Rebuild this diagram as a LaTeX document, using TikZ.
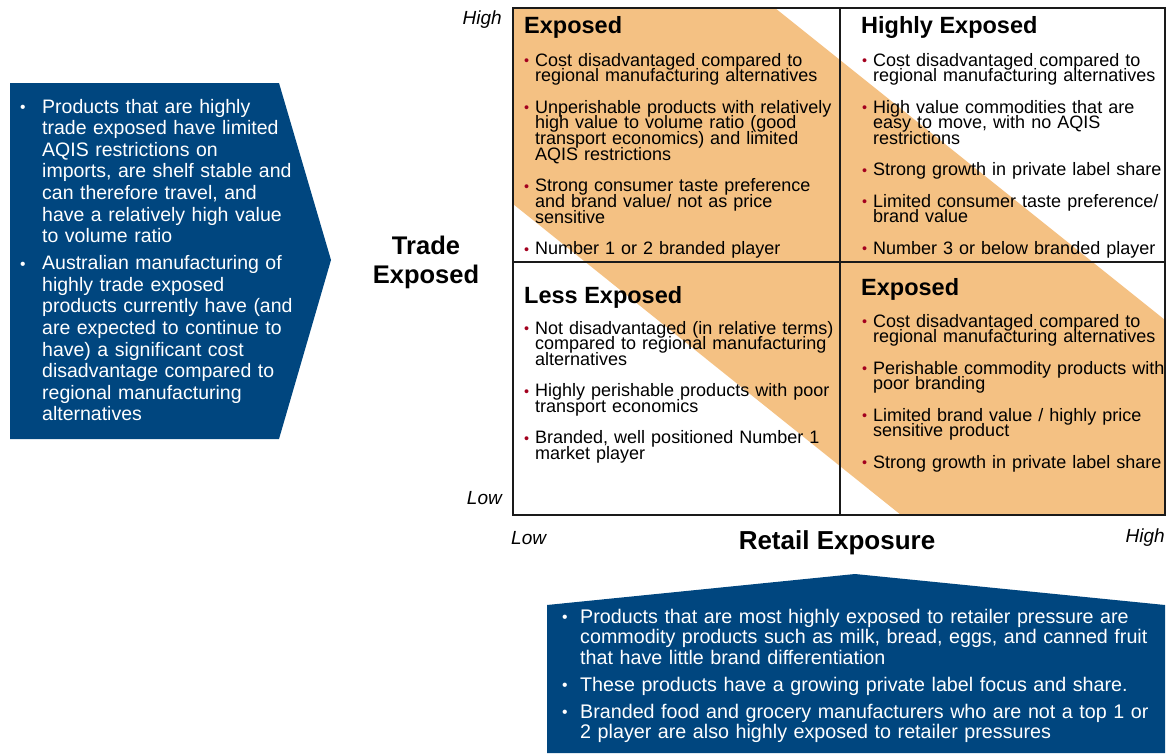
\documentclass[tikz,border=0pt]{standalone}
\usepackage{fontspec}
\setmainfont{Liberation Sans}
\usepackage{xcolor}
\usepackage{tikz}
\usetikzlibrary{positioning, calc}
\definecolor{darkblue}{HTML}{00467F}
\definecolor{lightorange}{HTML}{F4C183}
\definecolor{bulletred}{HTML}{A3001E}
\definecolor{gridline}{HTML}{1A1A1A}

\newlength{\itemgap}
\newlength{\hangwd}
\newcommand{\qitem}[2][bulletred]{%
  \hangindent=\hangwd\hangafter=1\noindent
  \makebox[\hangwd][l]{\raisebox{0.02em}{\textcolor{#1}{\scalebox{0.8}{•}}}}#2\par\vskip\itemgap}

\begin{document}
\begin{tikzpicture}[x=1pt, y=-1pt,
    quadtitle/.style={anchor=base west, inner sep=0pt, font=\fontsize{23.5}{28}\selectfont\bfseries},
    quaditems/.style={anchor=base west, inner sep=0pt, text width=#1, align=left,
      font=\fontsize{18}{15.8}\selectfont,
      execute at begin node={\setlength{\lineskiplimit}{-30pt}\setlength{\itemgap}{15.4pt}\setlength{\hangwd}{11pt}}},
    bluenotes/.style={anchor=base west, inner sep=0pt, text width=#1, align=left, text=white},
    axislabel/.style={inner sep=0pt, font=\fontsize{19}{22}\selectfont\itshape},
    axistitle/.style={inner sep=0pt, align=center, font=\fontsize{25.5}{29}\selectfont\bfseries}
  ]
    \useasboundingbox (0,0) rectangle (1170,753);

    \coordinate (mnw) at (513,8);
    \coordinate (mse) at (1165,515);
    \coordinate (mmid) at (840,262);

    \fill[lightorange] (mnw) -- (775,8) -- (1165,320) -- (1165,515) -- (901,515) -- (513,204) -- cycle;
    \draw[gridline, line width=1.2pt] (mnw) rectangle (mse);
    \draw[gridline, line width=1.2pt] (mnw -| mmid) -- (mse -| mmid);
    \draw[gridline, line width=1.2pt] (mnw |- mmid) -- (mse |- mmid);

    \node[quadtitle] (tltitle) at (524,33) {Exposed};
    \node[quaditems=330] (tlitems) at (524,66) {%
      \qitem{Cost disadvantaged compared to\newline regional manufacturing alternatives}
      \qitem{Unperishable products with relatively\newline high value to volume ratio (good\newline transport economics) and limited\newline AQIS restrictions}
      \qitem{Strong consumer taste preference\newline and brand value/ not as price\newline sensitive}
      \qitem{Number 1 or 2 branded player}};

    \node[quadtitle] (trtitle) at (861,33) {Highly Exposed};
    \node[quaditems=330] (tritems) at (862,66) {%
      \qitem{Cost disadvantaged compared to\newline regional manufacturing alternatives}
      \qitem{High value commodities that are\newline easy to move, with no AQIS\newline restrictions}
      \qitem{Strong growth in private label share}
      \qitem{Limited consumer taste preference/\newline brand value}
      \qitem{Number 3 or below branded player}};

    \node[quadtitle] (bltitle) at (524,303) {Less Exposed};
    \node[quaditems=330] (blitems) at (524,334) {%
      \qitem{Not disadvantaged (in relative terms)\newline compared to regional manufacturing\newline alternatives}
      \qitem{Highly perishable products with poor\newline transport economics}
      \qitem{Branded, well positioned Number 1\newline market player}};

    \node[quadtitle] (brtitle) at (861,295) {Exposed};
    \node[quaditems=330] (britems) at (862,327) {%
      \qitem{Cost disadvantaged compared to\newline regional manufacturing alternatives}
      \qitem{Perishable commodity products with\newline poor branding}
      \qitem{Limited brand value / highly price\newline sensitive product}
      \qitem{Strong growth in private label share}};

    \node[axislabel, anchor=east] (yhigh) at (502,20) {High};
    \node[axislabel, anchor=east] (ylow) at (502,498) {Low};
    \node[axislabel, anchor=west] (xlow) at (511,538) {Low};
    \node[axislabel, anchor=east] (xhigh) at (1165,538) {High};
    \node[axistitle] (ytitle) at (426,262) {Trade\\Exposed};
    \node[axistitle, font=\fontsize{26}{29}\selectfont\bfseries] (xtitle) at (837,543) {Retail Exposure};

    \fill[darkblue] (10,83) -- (279,83) -- (331,260) -- (279,439) -- (10,439) -- cycle;
    \node[bluenotes=300, font=\fontsize{19.5}{21.6}\selectfont,
          execute at begin node={\setlength{\lineskiplimit}{-30pt}\setlength{\itemgap}{5.4pt}\setlength{\hangwd}{22pt}}] (tradenotes) at (20,113) {%
      \qitem[white]{Products that are highly\newline trade exposed have limited\newline AQIS restrictions on\newline imports, are shelf stable and\newline can therefore travel, and\newline have a relatively high value\newline to volume ratio}
      \qitem[white]{Australian manufacturing of\newline highly trade exposed\newline products currently have (and\newline are expected to continue to\newline have) a significant cost\newline disadvantage compared to\newline regional manufacturing\newline alternatives}};

    \fill[darkblue] (547,605) -- (855,574) -- (1165,605) -- (1165,753) -- (547,753) -- cycle;
    \node[bluenotes=605, font=\fontsize{19.7}{20.5}\selectfont,
          execute at begin node={\setlength{\lineskiplimit}{-30pt}\setlength{\itemgap}{6.5pt}\setlength{\hangwd}{18pt}}] (retailnotes) at (562,623) {%
      \qitem[white]{Products that are most highly exposed to retailer pressure are\newline commodity products such as milk, bread, eggs, and canned fruit\newline that have little brand differentiation}
      \qitem[white]{These products have a growing private label focus and share.}
      \qitem[white]{Branded food and grocery manufacturers who are not a top 1 or\newline 2 player are also highly exposed to retailer pressures}};
  \end{tikzpicture}
\end{document}
